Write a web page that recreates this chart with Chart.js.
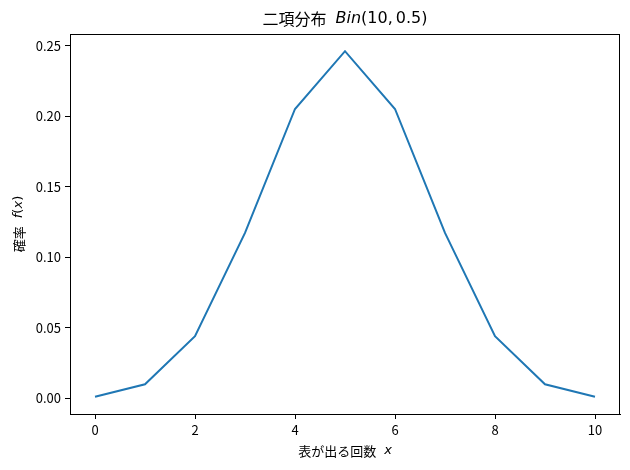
<!DOCTYPE html>
<html lang="ja">
<head>
    <meta charset="UTF-8">
    <script src="https://cdn.jsdelivr.net/npm/chart.js"></script>
    <title>二項分布</title>
    <style>
        body {
            margin: 0;
            padding: 0;
            background-color: white;
        }
        #wrap {
            width: 630px;
            height: 470px;
        }
    </style>
</head>
<body>
    <div id="wrap"><canvas id="myChart"></canvas></div>

    <script>
        // values
        const counts = [0, 1, 2, 3, 4, 5, 6, 7, 8, 9, 10];
        const probs = [0.001, 0.0098, 0.0439, 0.1172, 0.2051, 0.2461, 0.2051, 0.1172, 0.0439, 0.0098, 0.001];
        const xTicks = [0, 2, 4, 6, 8, 10];
        const yTicks = [0, 0.05, 0.10, 0.15, 0.20, 0.25];

        const jp = "'Noto Sans CJK JP', 'Noto Sans', sans-serif";
        const mathFont = "'DejaVu Sans', sans-serif";

        // draw a line of text made of pieces, some of them italic (math)
        // a number in the list is an extra gap in px
        function drawParts(ctx, parts, size) {
            const setFont = p => {
                ctx.font = (p[1] ? 'italic ' : '') + size + 'px ' + (p[2] ? mathFont : jp);
            };
            let total = 0;
            parts.forEach(p => {
                if (typeof p === 'number') { total += p; return; }
                setFont(p);
                total += ctx.measureText(p[0]).width;
            });
            let x = -total / 2;
            parts.forEach(p => {
                if (typeof p === 'number') { x += p; return; }
                setFont(p);
                ctx.fillText(p[0], x, 0);
                x += ctx.measureText(p[0]).width;
            });
        }

        const labelsPlugin = {
            id: 'labels',
            afterDraw(chart) {
                const ctx = chart.ctx;
                const a = chart.chartArea;
                ctx.save();
                // frame
                ctx.strokeStyle = '#000';
                ctx.lineWidth = 1;
                ctx.strokeRect(a.left + 0.5, a.top + 0.5, a.right - a.left - 1, a.bottom - a.top);
                ctx.fillStyle = '#000';
                ctx.textAlign = 'left';
                ctx.textBaseline = 'middle';
                const cx = (a.left + a.right) / 2;
                // title
                ctx.save();
                ctx.translate(cx, 19);
                drawParts(ctx, [['二項分布', false, false], 9, ['Bin', true, true], ['(10,', false, true], 3, ['0.5)', false, true]], 16);
                ctx.restore();
                // x label
                ctx.save();
                ctx.translate(cx, 451);
                drawParts(ctx, [['表が出る回数', false, false], 8, ['x', true, true]], 13);
                ctx.restore();
                // y label
                ctx.save();
                ctx.translate(19, (a.top + a.bottom) / 2);
                ctx.rotate(-Math.PI / 2);
                drawParts(ctx, [['確率', false, false], 8, ['f', true, true], ['(', false, true], ['x', true, true], [')', false, true]], 13);
                ctx.restore();
                ctx.restore();
            }
        };

        const chartConfig = {
            type: 'line',
            data: {
                datasets: [{
                    data: counts.map((c, i) => ({ x: c, y: probs[i] })),
                    borderColor: '#1f77b4',
                    borderWidth: 2,
                    pointRadius: 0,
                    tension: 0,
                    fill: false
                }]
            },
            options: {
                responsive: true,
                maintainAspectRatio: false,
                animation: false,
                layout: {
                    padding: { top: 34, right: 10, left: 0, bottom: 0 }
                },
                plugins: {
                    legend: { display: false },
                    tooltip: { enabled: false },
                    title: { display: false }
                },
                scales: {
                    x: {
                        type: 'linear',
                        min: -0.5,
                        max: 10.5,
                        afterBuildTicks: s => { s.ticks = xTicks.map(v => ({ value: v })); },
                        afterFit: s => { s.height = 56; },
                        grid: { drawOnChartArea: false, drawTicks: true, tickLength: 5, color: '#000' },
                        border: { display: true, color: '#000' },
                        ticks: {
                            color: '#000',
                            font: { family: jp, size: 13 },
                            padding: 3,
                            maxRotation: 0,
                            callback: v => String(v)
                        }
                    },
                    y: {
                        type: 'linear',
                        min: -0.0113,
                        max: 0.2583,
                        afterBuildTicks: s => { s.ticks = yTicks.map(v => ({ value: v })); },
                        afterFit: s => { s.width = 70; },
                        grid: { drawOnChartArea: false, drawTicks: true, tickLength: 5, color: '#000' },
                        border: { display: true, color: '#000' },
                        ticks: {
                            color: '#000',
                            font: { family: jp, size: 13 },
                            padding: 4,
                            callback: v => v.toFixed(2)
                        }
                    }
                }
            },
            plugins: [labelsPlugin]
        };

        var myChart = new Chart(document.getElementById('myChart'), chartConfig);
    </script>
</body>
</html>
